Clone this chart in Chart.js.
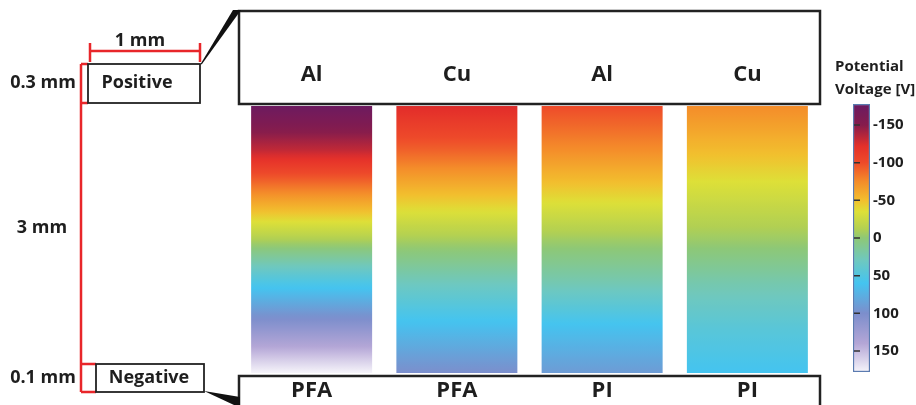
<!DOCTYPE html>
<html>
<head>
<meta charset="utf-8">
<script src="https://cdn.jsdelivr.net/npm/chart.js@4.4.1/dist/chart.umd.min.js"></script>
<style>
  html, body { margin: 0; padding: 0; background: #fff; }
  #wrap { position: relative; width: 916px; height: 405px; overflow: hidden; }
  #main { position: absolute; left: 0; top: 0; width: 916px; height: 405px; }
  #cbar { position: absolute; left: 830px; top: 0; width: 86px; height: 405px; }
</style>
</head>
<body>
<div id="wrap">
  <canvas id="main" width="916" height="405"></canvas>
  <canvas id="cbar" width="86" height="405"></canvas>
</div>
<script>
/* --------------- Data --------------------- */
const electrodes = ["Al", "Cu", "Al", "Cu"];
const films = ["PFA", "PFA", "PI", "PI"];
// depth through the film, top (positive side) to bottom (negative side), mm
const depthMm = [0, 0.5, 1, 1.5, 2, 2.5, 3];
// potential [V] at those depths
const potAlPfa = [-175, -132, -72, -11, 55, 114, 178];
const potCuPfa = [-125, -91, -50, -9, 30, 66, 100];
const potAlPi = [-100, -74, -41, -6, 25, 63, 90];
const potCuPi = [-75, -52, -28, -5, 23, 45, 60];
const profiles = [potAlPfa, potCuPfa, potAlPi, potCuPi];
const cbTicks = [-150, -100, -50, 0, 50, 100, 150];
const cbMin = -178;
const cbMax = 178;

/* --------------- Colour map --------------------- */
const cmap = [
  [-178, "#6a1a62"],
  [-150, "#861c4c"],
  [-122, "#e4302a"],
  [-100, "#ee4a2a"],
  [-75, "#f48c2a"],
  [-50, "#f2bf2e"],
  [-35, "#dde038"],
  [-12, "#b2d052"],
  [0, "#8ec876"],
  [30, "#6ec8c0"],
  [60, "#44c4f0"],
  [100, "#7c8ecc"],
  [140, "#b4a6d6"],
  [178, "#f6f4fa"],
];
function hexToRgb(h) {
  return [parseInt(h.slice(1, 3), 16), parseInt(h.slice(3, 5), 16), parseInt(h.slice(5, 7), 16)];
}
function colorAt(v) {
  if (v <= cmap[0][0]) return cmap[0][1];
  for (let i = 1; i < cmap.length; i++) {
    if (v <= cmap[i][0]) {
      const t = (v - cmap[i - 1][0]) / (cmap[i][0] - cmap[i - 1][0]);
      const a = hexToRgb(cmap[i - 1][1]), b = hexToRgb(cmap[i][1]);
      const c = a.map((x, k) => Math.round(x + (b[k] - x) * t));
      return `rgb(${c[0]},${c[1]},${c[2]})`;
    }
  }
  return cmap[cmap.length - 1][1];
}
function potAt(profile, d) {
  for (let i = 1; i < depthMm.length; i++) {
    if (d <= depthMm[i]) {
      const t = (d - depthMm[i - 1]) / (depthMm[i] - depthMm[i - 1]);
      return profile[i - 1] + (profile[i] - profile[i - 1]) * t;
    }
  }
  return profile[profile.length - 1];
}

const TXT = "#1e1e1e";
const RED = "#e8262a";
const FONT = "'Open Sans', 'Noto Sans', sans-serif";

/* --------------- Column gradient --------------------- */
function columnFill(c) {
  const chart = c.chart;
  if (!chart.chartArea) return "#ccc";
  const y = chart.scales.y;
  const d0 = depthMm[0], d1 = depthMm[depthMm.length - 1];
  const y0 = y.getPixelForValue(d0), y1 = y.getPixelForValue(d1);
  const g = chart.ctx.createLinearGradient(0, y0, 0, y1);
  const prof = profiles[c.dataIndex];
  const n = 60;
  for (let k = 0; k <= n; k++) {
    const d = d0 + (d1 - d0) * k / n;
    g.addColorStop(k / n, colorAt(potAt(prof, d)));
  }
  return g;
}

/* --------------- Boxes, labels and schematic --------------------- */
const framePlugin = {
  id: "frame",
  afterDatasetsDraw(chart) {
    const ctx = chart.ctx;
    const ca = chart.chartArea;
    const x = chart.scales.x;
    ctx.save();
    // top (electrode) box and bottom (film) box
    ctx.strokeStyle = "#222";
    ctx.lineWidth = 2.5;
    ctx.strokeRect(ca.left, 11, ca.right - ca.left, ca.top - 13);
    ctx.strokeRect(ca.left, ca.bottom + 3, ca.right - ca.left, 40);
    ctx.fillStyle = TXT;
    ctx.textAlign = "center";
    ctx.textBaseline = "middle";
    ctx.font = `bold 22px ${FONT}`;
    electrodes.forEach((s, i) => ctx.fillText(s, x.getPixelForValue(i), 75));
    films.forEach((s, i) => ctx.fillText(s, x.getPixelForValue(i), 391));

    // zoom wedges
    ctx.fillStyle = "#111";
    ctx.beginPath();
    ctx.moveTo(200, 65); ctx.lineTo(233, 10); ctx.lineTo(241, 10); ctx.lineTo(202, 64);
    ctx.closePath(); ctx.fill();
    ctx.beginPath();
    ctx.moveTo(204, 391); ctx.lineTo(240, 397); ctx.lineTo(240, 405); ctx.lineTo(234, 405);
    ctx.closePath(); ctx.fill();

    // red dimension lines
    ctx.strokeStyle = RED;
    ctx.lineWidth = 2.5;
    ctx.beginPath();
    ctx.moveTo(90, 51); ctx.lineTo(200, 51);
    ctx.moveTo(90, 43); ctx.lineTo(90, 62);
    ctx.moveTo(200, 43); ctx.lineTo(200, 62);
    ctx.moveTo(81, 64); ctx.lineTo(81, 392);
    ctx.moveTo(81, 64); ctx.lineTo(88, 64);
    ctx.moveTo(81, 103); ctx.lineTo(88, 103);
    ctx.moveTo(81, 364); ctx.lineTo(96, 364);
    ctx.moveTo(81, 392); ctx.lineTo(96, 392);
    ctx.stroke();

    // electrode boxes
    ctx.strokeStyle = "#222";
    ctx.lineWidth = 1.8;
    ctx.strokeRect(88, 64, 112, 39);
    ctx.strokeRect(96, 364, 108, 28);

    ctx.fillStyle = TXT;
    ctx.font = `bold 18px ${FONT}`;
    ctx.fillText("1 mm", 140, 41);
    ctx.fillText("Positive", 137, 83);
    ctx.fillText("Negative", 149, 378);
    ctx.fillText("0.3 mm", 43, 83);
    ctx.fillText("3 mm", 42, 228);
    ctx.fillText("0.1 mm", 43, 378);
    ctx.restore();
  },
};

new Chart(document.getElementById("main"), {
  type: "bar",
  plugins: [framePlugin],
  data: {
    labels: electrodes.map((e, i) => e + "/" + films[i]),
    datasets: [
      {
        data: electrodes.map(() => [depthMm[0], depthMm[depthMm.length - 1]]),
        backgroundColor: columnFill,
        borderWidth: 0,
        barPercentage: 0.833,
        categoryPercentage: 1,
      },
    ],
  },
  options: {
    responsive: false,
    animation: false,
    layout: { padding: { left: 239, right: 96, top: 106, bottom: 32 } },
    scales: {
      x: { display: false },
      y: { display: false, min: 0, max: 3, reverse: true },
    },
    plugins: { legend: { display: false }, tooltip: { enabled: false } },
  },
});

/* --------------- Colour bar --------------------- */
function barFill(c) {
  const chart = c.chart;
  if (!chart.chartArea) return "#ccc";
  const y = chart.scales.y;
  const g = chart.ctx.createLinearGradient(0, y.getPixelForValue(cbMin), 0, y.getPixelForValue(cbMax));
  cmap.forEach(([v, col]) => g.addColorStop((v - cbMin) / (cbMax - cbMin), col));
  return g;
}
const cbPlugin = {
  id: "cbdeco",
  afterDatasetsDraw(chart) {
    const ctx = chart.ctx;
    const ca = chart.chartArea;
    const y = chart.scales.y;
    ctx.save();
    ctx.strokeStyle = "#333";
    ctx.lineWidth = 1.5;
    ctx.beginPath();
    cbTicks.forEach((t) => {
      const py = y.getPixelForValue(t);
      ctx.moveTo(ca.left + 1, py); ctx.lineTo(ca.left + 7, py);
    });
    ctx.stroke();
    ctx.fillStyle = TXT;
    ctx.font = `bold 15px ${FONT}`;
    ctx.textAlign = "left";
    ctx.textBaseline = "middle";
    ctx.fillText("Potential", 5, 67);
    ctx.fillText("Voltage [V]", 5, 90);
    ctx.restore();
  },
};
new Chart(document.getElementById("cbar"), {
  type: "bar",
  plugins: [cbPlugin],
  data: {
    labels: ["Potential Voltage [V]"],
    datasets: [
      {
        data: [[cbMin, cbMax]],
        backgroundColor: barFill,
        borderColor: "#5b7bb0",
        borderWidth: 1.5,
        borderSkipped: false,
        barPercentage: 1,
        categoryPercentage: 1,
      },
    ],
  },
  options: {
    responsive: false,
    animation: false,
    layout: { padding: { left: 23, right: 0, top: 104, bottom: 33 } },
    scales: {
      x: { display: false },
      y: {
        position: "right",
        reverse: true,
        min: cbMin,
        max: cbMax,
        afterBuildTicks: (s) => { s.ticks = cbTicks.map((v) => ({ value: v })); },
        afterFit: (s) => { s.width = 46; },
        grid: { display: false, drawTicks: false },
        border: { display: false },
        ticks: { padding: 3, color: TXT, font: { family: FONT, size: 15, weight: "bold" } },
      },
    },
    plugins: { legend: { display: false }, tooltip: { enabled: false } },
  },
});
</script>
</body>
</html>
